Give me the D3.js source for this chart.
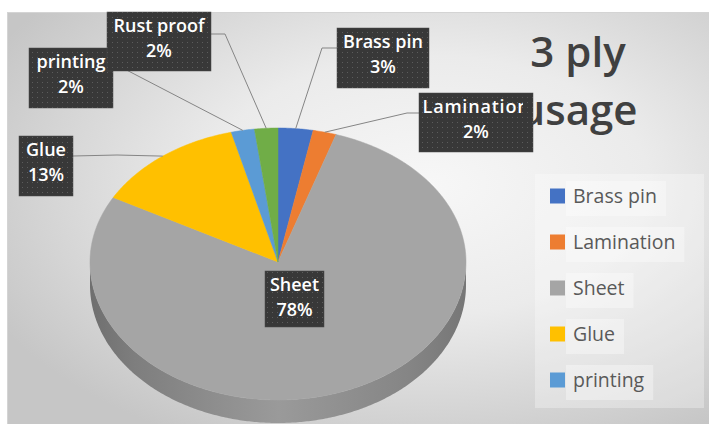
<!DOCTYPE html>
<html>
<head>
<meta charset="utf-8">
<script src="https://cdn.jsdelivr.net/npm/d3@7"></script>
<style>
  body { margin: 0; background: #ffffff; }
  svg { display: block; }
</style>
</head>
<body>
<svg id="chart" width="709" height="424"></svg>
<script>
// ---- data ----
const categories = ["Brass pin", "Lamination", "Sheet", "Glue", "printing", "Rust proof"];
const shares = [3, 2, 78, 13, 2, 2];            // percent of total
const sliceColors = ["#4472C4", "#ED7D31", "#A5A5A5", "#FFC000", "#5B9BD5", "#70AD47"];
const legendNames = ["Brass pin", "Lamination", "Sheet", "Glue", "printing"];
const titleLines = ["3 ply", "usage"];

// ---- layout ----
const plot = { x: 7, y: 12, w: 702, h: 412 };
const pieGeom = { cx: 278, cy: 262, rx: 188, ryBack: 134, ryFront: 138, depth: 23 };
// label boxes; `inset` is the right-hand text clipping margin, `spacing` the letter spacing
const labelBoxes = {
  "printing":   { x: 29,  y: 48,  w: 84,  h: 60, inset: 1,  spacing: 0,   leader: [[113, 63]] },
  "Rust proof": { x: 107, y: 12,  w: 104, h: 59, inset: 1,  spacing: 0,   leader: [[211, 34], [225, 34]] },
  "Glue":       { x: 19,  y: 136, w: 54,  h: 60, inset: 1,  spacing: 0,   leader: [[73, 156], [117, 155]] },
  "Brass pin":  { x: 337, y: 28,  w: 92,  h: 60, inset: 1,  spacing: 0,   leader: [[337, 48], [322, 48]] },
  "Lamination": { x: 419, y: 93,  w: 114, h: 59, inset: 10, spacing: 0.8, leader: [[419, 113], [407, 113]] },
  "Sheet":      { x: 265, y: 271, w: 59,  h: 56, inset: 1,  spacing: 0,   leader: null }
};
const labelOrder = ["printing", "Rust proof", "Glue", "Brass pin", "Lamination", "Sheet"];
const legendBox = { x: 535, y: 174, w: 169, h: 234, firstRow: 196, step: 46, swatch: 15, swatchX: 550, textX: 573 };

const data = categories.map((name, i) => ({ name, value: shares[i], color: sliceColors[i] }));
const colorOf = d3.scaleOrdinal().domain(categories).range(sliceColors);

const svg = d3.select("#chart");
const defs = svg.append("defs");

// chart area background
const bg = defs.append("radialGradient").attr("id", "bgGrad")
  .attr("cx", 0.6).attr("cy", 0.42).attr("r", 0.7);
bg.append("stop").attr("offset", 0).attr("stop-color", "#f7f7f7");
bg.append("stop").attr("offset", 0.45).attr("stop-color", "#ebebeb");
bg.append("stop").attr("offset", 1).attr("stop-color", "#c6c6c6");

svg.append("rect")
  .attr("x", plot.x + 0.5).attr("y", plot.y + 0.5)
  .attr("width", plot.w).attr("height", plot.h)
  .attr("fill", "url(#bgGrad)").attr("stroke", "#d4d4d4");

// title
svg.append("g").selectAll("text").data(titleLines).join("text")
  .attr("x", 578).attr("y", (d, i) => 67 + i * 58)
  .attr("text-anchor", "middle")
  .attr("font-family", "'Open Sans', 'Noto Sans', sans-serif")
  .attr("font-size", 42).attr("font-weight", 600)
  .attr("fill", "#404040")
  .text(d => d);

// ---- 3D pie ----
const { cx, cy, rx, ryBack, ryFront, depth } = pieGeom;
function proj(a, dz = 0) {
  const c = Math.cos(a);
  return [cx + rx * Math.sin(a), cy - (c > 0 ? ryBack : ryFront) * c + dz];
}
function sample(a0, a1, dz) {
  const n = Math.max(2, Math.ceil((a1 - a0) / 0.01));
  return d3.range(n + 1).map(k => proj(a0 + (a1 - a0) * k / n, dz));
}
const arcs = d3.pie().sort(null).value(d => d.value)(data);
const line = d3.line();
const pieG = svg.append("g");

// side walls (front half only is visible)
arcs.forEach((a, i) => {
  const s = Math.max(a.startAngle, Math.PI / 2);
  const e = Math.min(a.endAngle, 3 * Math.PI / 2);
  if (s >= e) return;
  const base = d3.color(colorOf(a.data.name));
  const g = defs.append("linearGradient").attr("id", "side" + i)
    .attr("gradientUnits", "userSpaceOnUse")
    .attr("x1", cx - rx).attr("x2", cx + rx).attr("y1", 0).attr("y2", 0);
  [[0, 1.1], [0.12, 0.75], [0.5, 0.2], [0.85, 0.6], [1, 0.95]].forEach(([o, k]) =>
    g.append("stop").attr("offset", o).attr("stop-color", base.darker(k).formatHex()));
  const pts = sample(s, e, 0).concat(sample(s, e, depth).reverse());
  pieG.append("path").attr("d", line(pts) + "Z").attr("fill", `url(#side${i})`);
});

// top faces
arcs.forEach(a => {
  const pts = [[cx, cy]].concat(sample(a.startAngle, a.endAngle, 0));
  pieG.append("path").attr("d", line(pts) + "Z")
    .attr("fill", colorOf(a.data.name))
    .attr("stroke", colorOf(a.data.name)).attr("stroke-width", 0.5);
});

// ---- data labels ----
const pat = defs.append("pattern").attr("id", "dots")
  .attr("patternUnits", "userSpaceOnUse").attr("width", 5).attr("height", 5);
pat.append("rect").attr("width", 5).attr("height", 5).attr("fill", "#383838");
pat.append("rect").attr("x", 2).attr("y", 2).attr("width", 1).attr("height", 1).attr("fill", "#5c5c5c");

const leaderG = svg.append("g");
const labelG = svg.append("g");
labelOrder.forEach((name, k) => {
  const arc = arcs.find(a => a.data.name === name);
  const box = labelBoxes[name];
  const pct = Math.round(arc.data.value / d3.sum(shares) * 100) + "%";
  if (box.leader) {
    const mid = (arc.startAngle + arc.endAngle) / 2;
    const pts = box.leader.concat([proj(mid, 0)]);
    leaderG.append("path").attr("d", line(pts))
      .attr("fill", "none").attr("stroke", "#858585").attr("stroke-width", 1);
  }
  const clipId = "lblclip" + k;
  defs.append("clipPath").attr("id", clipId).append("rect")
    .attr("x", box.x + 1).attr("y", box.y).attr("width", box.w - 1 - box.inset).attr("height", box.h);
  const g = labelG.append("g");
  g.append("rect").attr("x", box.x).attr("y", box.y).attr("width", box.w).attr("height", box.h)
    .attr("fill", "url(#dots)").attr("stroke", "#4a4a4a").attr("stroke-width", 0.5);
  g.append("g").attr("clip-path", `url(#${clipId})`).selectAll("text")
    .data([name, pct]).join("text")
    .attr("x", box.x + box.w / 2).attr("y", (d, j) => box.y + 20 + j * 25)
    .attr("text-anchor", "middle")
    .attr("font-family", "'Open Sans', 'Noto Sans', sans-serif")
    .attr("font-size", 18).attr("font-weight", 600)
    .attr("letter-spacing", (d, j) => j === 0 ? box.spacing : 0)
    .attr("fill", "#ffffff")
    .text(d => d);
});

// ---- legend ----
const lg = svg.append("g");
lg.append("rect").attr("x", legendBox.x).attr("y", legendBox.y)
  .attr("width", legendBox.w).attr("height", legendBox.h)
  .attr("fill", "#ffffff").attr("fill-opacity", 0.3);
legendNames.forEach((name, i) => {
  const yc = legendBox.firstRow + i * legendBox.step;
  const t = lg.append("text")
    .attr("x", legendBox.textX).attr("y", yc).attr("dy", "0.35em")
    .attr("font-family", "'Open Sans', 'Noto Sans', sans-serif")
    .attr("font-size", 19.5).attr("fill", "#595959")
    .text(name);
  const w = t.node().getComputedTextLength();
  lg.insert("rect", "text")
    .attr("x", legendBox.textX - 7).attr("y", yc - 15)
    .attr("width", w + 16).attr("height", 35)
    .attr("fill", "#ffffff").attr("fill-opacity", 0.35);
  lg.append("rect")
    .attr("x", legendBox.swatchX).attr("y", yc - legendBox.swatch / 2)
    .attr("width", legendBox.swatch).attr("height", legendBox.swatch)
    .attr("fill", colorOf(name));
});
</script>
</body>
</html>
